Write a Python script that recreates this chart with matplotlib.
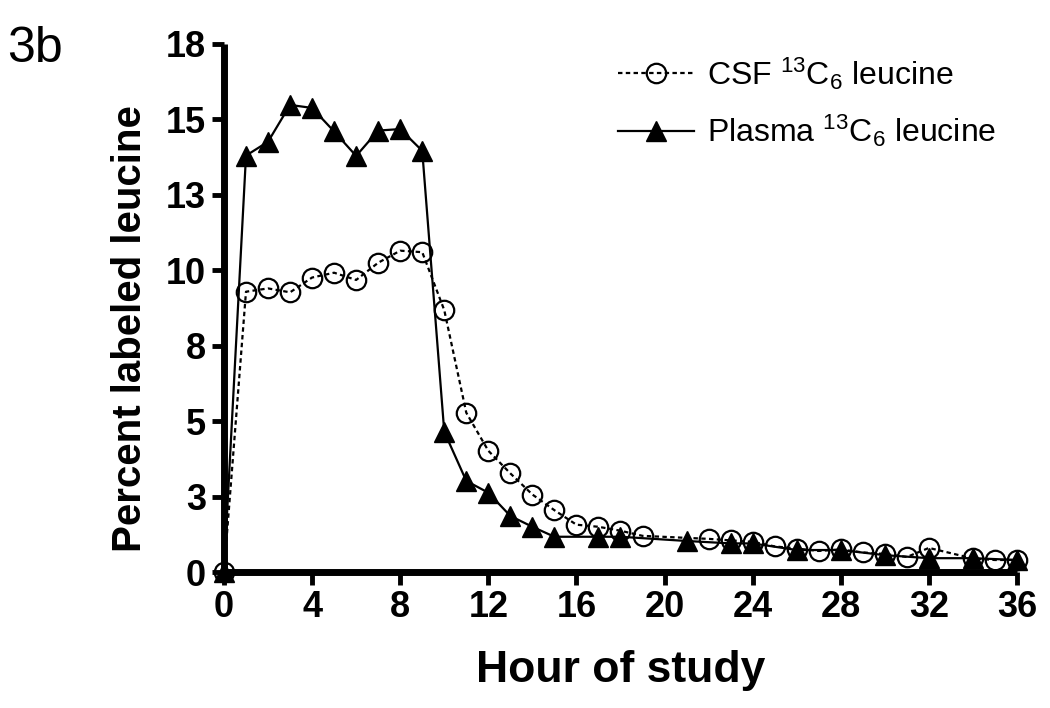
import matplotlib
matplotlib.use('Agg')
import matplotlib.pyplot as plt

plt.rcParams['font.family'] = ['Liberation Sans', 'DejaVu Sans']
plt.rcParams['mathtext.fontset'] = 'custom'
plt.rcParams['mathtext.rm'] = 'Liberation Sans'
plt.rcParams['mathtext.it'] = 'Liberation Sans'

# CSF 13C6 leucine (open circles, dotted)
csf_hours = [0, 1, 2, 3, 4, 5, 6, 7, 8, 9, 10, 11, 12, 13, 14, 15, 16, 17, 18, 19,
             22, 23, 24, 25, 26, 27, 28, 29, 30, 31, 32, 34, 35, 36]
csf_vals = [0.0, 9.29, 9.4, 9.27, 9.76, 9.92, 9.68, 10.25, 10.65, 10.6, 8.68,
            5.28, 4.02, 3.27, 2.57, 2.05, 1.57, 1.5, 1.37, 1.2,
            1.1, 1.05, 1.0, 0.85, 0.78, 0.7, 0.75, 0.65, 0.6, 0.5, 0.8,
            0.45, 0.4, 0.4]

# Plasma 13C6 leucine (filled triangles, solid)
plasma_hours = [0, 1, 2, 3, 4, 5, 6, 7, 8, 9, 10, 11, 12, 13, 14, 15,
                17, 18, 21, 23, 24, 26, 28, 30, 32, 34, 36]
plasma_vals = [0.0, 13.8, 14.26, 15.48, 15.38, 14.6, 13.79, 14.63, 14.68, 13.96,
               4.65, 3.02, 2.63, 1.86, 1.5, 1.17,
               1.17, 1.17, 1.03, 0.95, 0.95, 0.73, 0.73, 0.56, 0.46, 0.46, 0.4]

xticks = [0, 4, 8, 12, 16, 20, 24, 28, 32, 36]
yticks = [0, 2.5, 5, 7.5, 10, 12.5, 15, 17.5]
ytick_labels = ['0', '3', '5', '8', '10', '13', '15', '18']

fig = plt.figure(figsize=(10.5, 7.08), dpi=100)
ax = fig.add_axes([0.2133, 0.192, 0.7553, 0.7459])

ax.plot(csf_hours, csf_vals, linestyle=(0, (2, 1.5)), color='black', lw=1.6,
        marker='o', markersize=14, mfc='none', mec='black', mew=1.6,
        clip_on=False, zorder=3, label=r'CSF $^{13}$C$_6$ leucine')
ax.plot(plasma_hours, plasma_vals, linestyle='-', color='black', lw=1.6,
        marker='^', markersize=14, mfc='black', mec='black',
        clip_on=False, zorder=4, label=r'Plasma $^{13}$C$_6$ leucine')

ax.set_xlim(0, 36)
ax.set_ylim(0, 17.5)
ax.set_xticks(xticks)
ax.set_yticks(yticks)
ax.set_yticklabels(ytick_labels)

for s in ['top', 'right']:
    ax.spines[s].set_visible(False)
for s in ['left', 'bottom']:
    ax.spines[s].set_linewidth(5)
    ax.spines[s].set_capstyle('butt')

ax.tick_params(axis='both', direction='out', length=9, width=3.5, pad=4)
for lab in ax.get_xticklabels() + ax.get_yticklabels():
    lab.set_fontweight('bold')
    lab.set_fontsize(26)

ax.set_xlabel('Hour of study', fontweight='bold', fontsize=32, labelpad=18)
ax.set_ylabel('Percent labeled leucine', fontweight='bold', fontsize=29)
ax.yaxis.set_label_coords(-0.095, 0.462)

leg = ax.legend(loc='upper right', bbox_to_anchor=(1.01, 1.033), frameon=False,
                fontsize=23, handlelength=2.4, handletextpad=0.4, labelspacing=0.66)

fig.text(0.007, 0.912, '3b', fontsize=36)

fig.savefig('out.png', dpi=100)
